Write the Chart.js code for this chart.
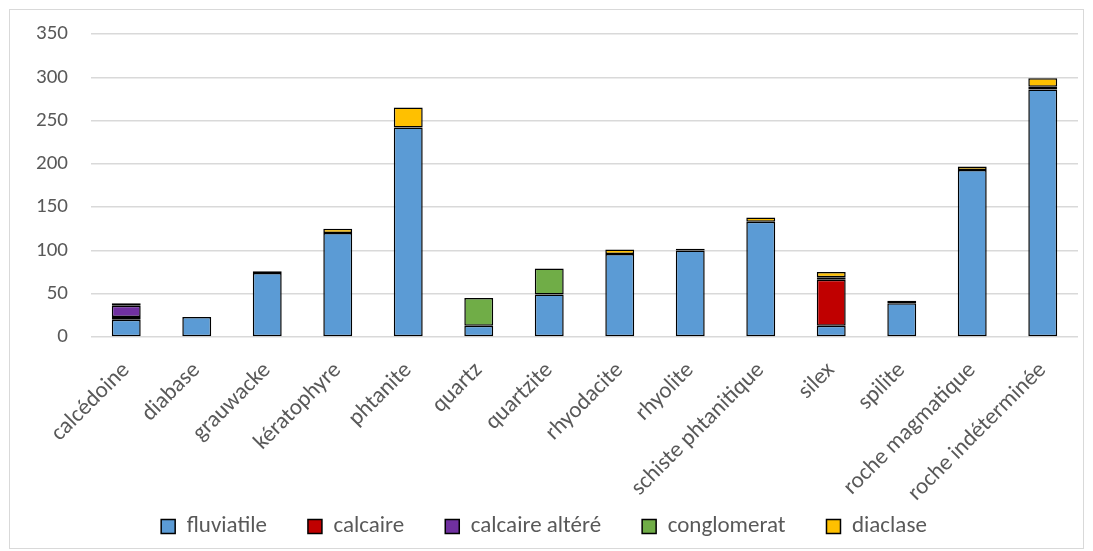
<!DOCTYPE html>
<html>
<head>
<meta charset="utf-8">
<script src="https://cdn.jsdelivr.net/npm/chart.js@4/dist/chart.umd.min.js"></script>
<style>
  body { margin: 0; background: #fff; }
  #cadre { position: absolute; left: 9px; top: 9px; width: 1075px; height: 540px; border: 1px solid #d9d9d9; box-sizing: border-box; }
</style>
</head>
<body>
<div id="cadre"><canvas id="graphique"></canvas></div>
<script>
// Catégories et séries
const roches = ['calcédoine', 'diabase', 'grauwacke', 'kératophyre', 'phtanite', 'quartz', 'quartzite',
    'rhyodacite', 'rhyolite', 'schiste phtanitique', 'silex', 'spilite', 'roche magmatique', 'roche indéterminée'];
const fluviatile    = [20, 23, 74, 120, 242, 13, 49, 96, 100, 133, 13, 39, 193, 286];
const calcaire      = [3, 0, 0, 0, 0, 0, 0, 0, 0, 0, 53, 0, 0, 0];
const calcaireAltere = [13, 0, 2, 0, 0, 0, 0, 0, 2, 0, 3, 3, 0, 3];
const conglomerat   = [3, 0, 0, 0, 0, 32, 30, 0, 0, 0, 0, 0, 0, 0];
const diaclase      = [0, 0, 0, 5, 23, 0, 0, 5, 0, 5, 6, 0, 4, 10];
const ticksY = [0, 50, 100, 150, 200, 250, 300, 350];

const police = "Carlito, Calibri, Lato, 'Liberation Sans', sans-serif";
const gris = '#595959';

function serie(nom, donnees, couleur) {
    return {
        label: nom,
        data: donnees,
        backgroundColor: couleur,
        borderColor: '#000000',
        borderWidth: 1.5,
        borderSkipped: false,
        barPercentage: 0.82,
        categoryPercentage: 0.5
    };
}

new Chart(document.getElementById('graphique'), {
    type: 'bar',
    data: {
        labels: roches,
        datasets: [
            serie('fluviatile', fluviatile, '#5b9bd5'),
            serie('calcaire', calcaire, '#c00000'),
            serie('calcaire altéré', calcaireAltere, '#7030a0'),
            serie('conglomerat', conglomerat, '#70ad47'),
            serie('diaclase', diaclase, '#ffc000')
        ]
    },
    options: {
        responsive: true,
        maintainAspectRatio: false,
        animation: false,
        layout: { padding: { left: 0, right: 5, top: 24, bottom: 0 } },
        plugins: {
            tooltip: { enabled: false },
            legend: {
                position: 'bottom',
                labels: {
                    boxWidth: 14,
                    boxHeight: 14,
                    padding: 41,
                    color: gris,
                    font: { family: police, size: 23 }
                }
            }
        },
        scales: {
            x: {
                stacked: true,
                grid: { display: false },
                border: { display: false },
                ticks: {
                    autoSkip: false,
                    minRotation: 45,
                    maxRotation: 45,
                    padding: 12,
                    color: gris,
                    font: { family: police, size: 23 }
                },
                afterFit: axe => {
                    axe.paddingLeft = 0;
                    axe.paddingRight = 0;
                    axe.height -= 45;
                    // ne pas couper les étiquettes qui débordent sur la légende
                    axe._computeLabelArea = () => undefined;
                }
            },
            y: {
                stacked: true,
                min: 0,
                max: 350,
                afterBuildTicks: axe => { axe.ticks = ticksY.map(v => ({ value: v })); },
                grid: { color: '#d9d9d9', lineWidth: 1.5, drawTicks: false },
                border: { display: false },
                ticks: {
                    padding: 23,
                    color: gris,
                    font: { family: police, size: 21 }
                },
                afterFit: axe => {
                    axe.paddingTop = 0;
                    axe.paddingBottom = 0;
                    axe.width = 81;
                }
            }
        }
    }
});
</script>
</body>
</html>
